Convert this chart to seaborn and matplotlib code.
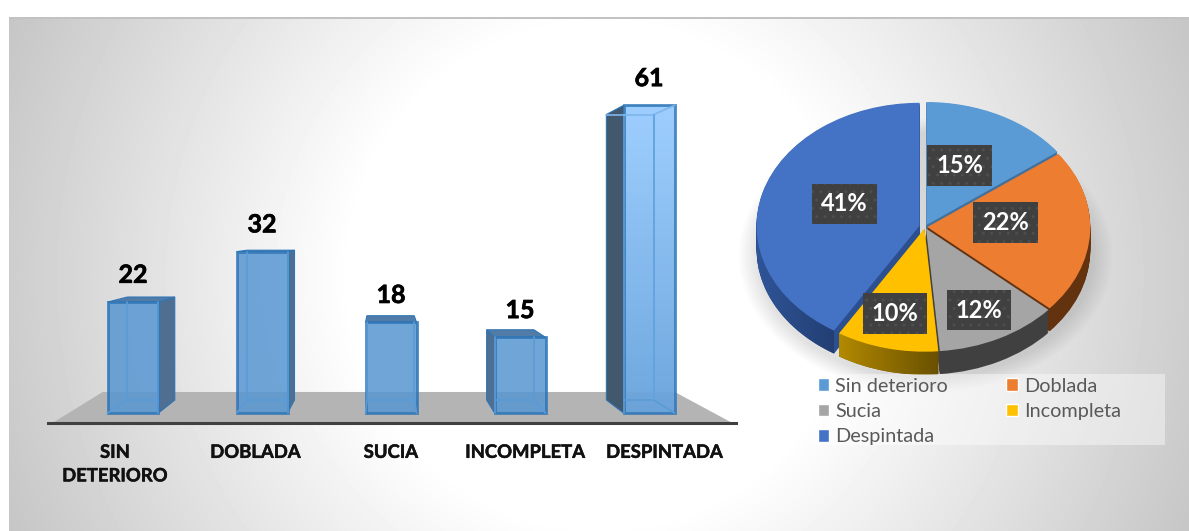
import numpy as np
import matplotlib
matplotlib.use('Agg')
import matplotlib.pyplot as plt
import matplotlib.patheffects as pe
from matplotlib.patches import Patch, Rectangle, Polygon
import seaborn as sns

# Datos
categorias = ['SIN\nDETERIORO', 'DOBLADA', 'SUCIA', 'INCOMPLETA', 'DESPINTADA']
valores = [22, 32, 18, 15, 61]
pos_etiquetas = [-0.14, 0.95, 2.0, 3.04, 4.12]
nombres_pie = ['Sin deterioro', 'Doblada', 'Sucia', 'Incompleta', 'Despintada']
colores_pie = ['#5B9BD5', '#ED7D31', '#A5A5A5', '#FFC000', '#4472C4']
colores_lado = ['#41719C', '#63320F', '#404040', '#806000', '#2C4F8F']
separacion = [0.018, 0.014, 0.014, 0.014, 0.035]
pct_x = [0.212, 0.494, 0.331, -0.184, -0.494]
pct_y = [0.50, 0.033, -0.675, -0.707, 0.187]

ANCHO, ALTO = 1189, 531
PROF = 0.187

sns.set_theme(style='white')
plt.rcParams['font.family'] = ['Lato', 'DejaVu Sans']
trazo = [pe.withStroke(linewidth=0.5, foreground='black')]


def caja(izq, arr, der, aba):
    # pasa una caja en pixeles de la imagen a fracciones de figura
    return [izq / ANCHO, 1 - aba / ALTO, (der - izq) / ANCHO, (aba - arr) / ALTO]


fig = plt.figure(figsize=(ANCHO / 100, ALTO / 100), dpi=100, facecolor='white')

# Fondo con degradado radial y sombra suave del pastel
fondo_ax = fig.add_axes([0, 0, 1, 1])
yy, xx = np.mgrid[0:ALTO, 0:ANCHO]
r = np.hypot(xx - 600, yy - 275)
gris = 1 - 0.000573 * np.clip(r - 250, 0, None)
sombra = np.sqrt(((xx - 925) / 174) ** 2 + ((yy - 255) / 128) ** 2)
gris = gris * (1 - 0.12 * np.clip((1.08 - sombra) / 0.12, 0, 1))
gris[17:19, :] = 0.76
gris[:17, :] = 1
gris[:, :9] = 1
fondo_ax.imshow(gris, cmap='gray', vmin=0, vmax=1, aspect='auto', interpolation='bilinear')
fondo_ax.axis('off')

# Grafico de barras
ax = fig.add_axes(caja(48, 60, 736, 423))
ax.patch.set_alpha(0)
sns.barplot(x=categorias, y=valores, ax=ax, color='#5796D2', width=0.395, saturation=1,
            alpha=0.85, edgecolor='#2E75B6', linewidth=2)
ax.set_xlim(-0.659, 4.674)
ax.set_ylim(-1.98, 70)

# Piso gris
ax.fill([-0.62, 4.64, 4.2, -0.235], [-1.9, -1.9, 4.17, 4.17], color='#B4B4B4', lw=0, zorder=0.5)

# Caras traseras en perspectiva respecto a un punto de fuga
fuga_x, fuga_y, escala = 1.95, 35.9, 0.928


def atras(x, y):
    return fuga_x + (x - fuga_x) * escala, fuga_y + (y - fuga_y) * escala


barras = ax.containers[0]
for i, p in enumerate(barras):
    x0, x1, h = p.get_x(), p.get_x() + p.get_width(), p.get_height()
    bx0, y0 = atras(x0, 0)
    bx1, by1 = atras(x1, h)
    lado = '#42586C' if i == 4 else '#4E6F92'
    if bx1 > x1 + 0.02:
        ax.fill([x1, bx1, bx1, x1], [0, y0, by1, h], color=lado, lw=0.8, ec='#2E75B6', zorder=0.8)
    if bx0 < x0 - 0.02:
        ax.fill([x0, bx0, bx0, x0], [0, y0, by1, h], color=lado, lw=0.8, ec='#2E75B6', zorder=0.8)
    if by1 > h:
        ax.fill([x0, x1, bx1, bx0], [h, h, by1, by1], color='#527CA8', lw=0.8, ec='#2E75B6', zorder=0.8)
    # aristas interiores que se ven a traves de la barra
    izq_v, der_v = max(bx0, x0), min(bx1, x1)
    arr_v = min(by1, h)
    ax.plot([izq_v, izq_v, der_v, der_v], [arr_v, y0, y0, arr_v], color='#5B9BD5', lw=1.2, zorder=2)
    ax.plot([x0, izq_v], [0, y0], color='#5B9BD5', lw=1.2, zorder=2)
    ax.plot([x1, der_v], [0, y0], color='#5B9BD5', lw=1.2, zorder=2)
    if by1 < h:
        ax.plot([bx0, bx1], [by1, by1], color='#7DB6EC', lw=1.2, zorder=2)
        ax.plot([x1, bx1], [h, by1], color='#7DB6EC', lw=1.2, zorder=2)
        ax.plot([bx1, bx1], [by1, y0], color='#66A6E0', lw=1.2, zorder=2)

# Degradado de la barra mas alta
ultima = barras[4]
grad = np.linspace(0, 1, 256)[:, None, None]
img = (1 - grad) * np.array([[[153, 204, 255]]]) / 255 + grad * np.array([[[103, 163, 220]]]) / 255
im = ax.imshow(img, aspect='auto', zorder=0.9, alpha=0.95,
               extent=(ultima.get_x(), ultima.get_x() + ultima.get_width(), 0, ultima.get_height()))
im.set_clip_path(ultima)
ultima.set_facecolor('none')
ax.set_xlim(-0.659, 4.674)
ax.set_ylim(-1.98, 70)

etiquetas = ax.bar_label(barras, padding=11, fontsize=18, fontweight='bold', color='black')
for e in etiquetas:
    e.set_path_effects(trazo)
ax.set_xticks(pos_etiquetas)
ax.set_xticklabels(categorias, fontsize=13.3, fontweight='bold', color='#111111', linespacing=1.47)
for e in ax.get_xticklabels():
    e.set_path_effects([pe.withStroke(linewidth=0.35, foreground='#111111')])
ax.tick_params(axis='x', length=0, pad=15)
ax.set_yticks([])
sns.despine(ax=ax, left=True)
ax.spines['bottom'].set_linewidth(2.2)
ax.spines['bottom'].set_color('#404040')

# Pastel con profundidad (pilas de pasteles oscuros)
pie_ax = fig.add_axes(caja(925 - 163 * 1.25, 227 - 123 * 1.25, 925 + 163 * 1.25, 227 + 123 * 1.6))
for d in np.linspace(PROF, 0.005, 24):
    pie_ax.pie(valores, colors=colores_lado, startangle=90, counterclock=False, explode=separacion,
               center=(0, -d), wedgeprops={'linewidth': 0})
cunas, _, pcts = pie_ax.pie(valores, colors=colores_pie, startangle=90, counterclock=False,
                            explode=separacion, autopct='%1.0f%%',
                            wedgeprops={'linewidth': 0, 'zorder': 3},
                            textprops={'fontsize': 17, 'fontweight': 'bold', 'color': 'white'})
for txt, px, py in zip(pcts, pct_x, pct_y):
    txt.set_position((px, py))
    txt.set_zorder(10)
    txt.set_bbox({'boxstyle': 'square,pad=0.38', 'facecolor': '#404040', 'edgecolor': '#4E4E4E',
                  'linewidth': 0, 'hatch': '..'})

# Degradado en el costado de las cunas amarilla y azul
tonos_lado = {3: ([178, 137, 0], [105, 80, 0]), 4: ([47, 85, 151], [35, 62, 115])}
for i, (c_izq, c_der) in tonos_lado.items():
    cuna = cunas[i]
    angs = np.deg2rad(np.linspace(cuna.theta1, cuna.theta2, 90))
    angs = angs[np.sin(angs) <= 0]
    cx, cy = cuna.center
    arco = np.column_stack([cx + np.cos(angs), cy + np.sin(angs)])
    arco_bajo = arco[::-1] - [0, PROF]
    borde = Polygon(np.vstack([arco, arco_bajo]), closed=True, transform=pie_ax.transData)
    m = np.linspace(0, 1, 128)[None, :, None]
    tono = ((1 - m) * np.array(c_izq) + m * np.array(c_der)) / 255
    img_lado = pie_ax.imshow(tono, aspect='auto', zorder=2, extent=(arco[:, 0].min(), arco[:, 0].max(),
                                                                    arco_bajo[:, 1].min(), arco[:, 1].max()))
    img_lado.set_clip_path(borde)
pie_ax.set_aspect('auto')
pie_ax.set_xlim(-1.25, 1.25)
pie_ax.set_ylim(-1.6, 1.25)

# Leyenda sobre un rectangulo claro
fig.patches.append(Rectangle((792 / ANCHO, 1 - 445 / ALTO), 373 / ANCHO, 71 / ALTO, transform=fig.transFigure,
                             facecolor='white', alpha=0.42, lw=0, figure=fig))
orden = [0, 2, 4, 1, 3]
manijas = [Patch(facecolor=colores_pie[i], label=nombres_pie[i]) for i in orden]
fig.legend(handles=manijas, ncol=2, frameon=False, fontsize=14.3, labelcolor='#595959',
           loc='upper left', bbox_to_anchor=(812 / ANCHO, 1 - 372 / ALTO), borderaxespad=0, borderpad=0.28,
           handlelength=0.6, handleheight=0.6, handletextpad=0.3, labelspacing=0.42, columnspacing=2.9)

fig.savefig('out.png', dpi=100)
